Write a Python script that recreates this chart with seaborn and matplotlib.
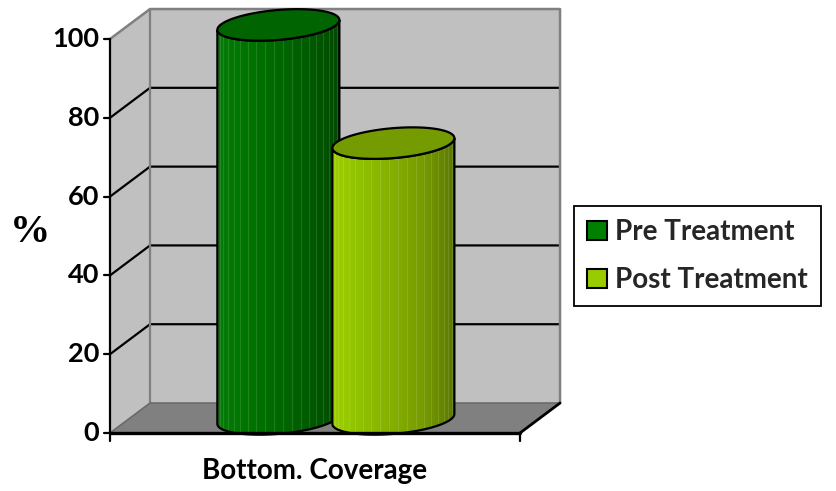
import numpy as np
import matplotlib
matplotlib.use("Agg")
import matplotlib.pyplot as plt
import seaborn as sns
from matplotlib.patches import Polygon, Patch
from matplotlib.colors import LinearSegmentedColormap

# ---------------- data ----------------
categories = ["Bottom. Coverage"]
series = ["Pre Treatment", "Post Treatment"]
values = [100, 70]
y_ticks = [0, 20, 40, 60, 80, 100]
y_label = "%"

# ---------------- style ----------------
sns.set_theme(style="white")
plt.rcParams['font.family'] = ['Lato', 'DejaVu Sans']

palette = sns.color_palette(["#008000", "#99CC00"])
body_grads = [
    ["#067a06", "#007400", "#006800", "#005a00", "#004a00"],
    ["#9dd000", "#90c000", "#84ae00", "#769a00", "#5a7800"],
]
top_colors = ["#006400", "#749b00"]
WEIGHT = 'bold'

fig = plt.figure(figsize=(8.36, 4.91), dpi=100)
ax = fig.add_axes([0, 0, 1, 1])
ax.axis('off')

# 3D depth offset (x units, value units)
DX, DY = 0.0976, 7.61
vmin, vmax = y_ticks[0], y_ticks[-1]
x0, x1 = 0.0, 1.0
wall = "#c0c0c0"
edge_gray = "#808080"

# back wall, left wall, floor
ax.add_patch(Polygon([(x0 + DX, vmin + DY), (x1 + DX, vmin + DY),
                      (x1 + DX, vmax + DY), (x0 + DX, vmax + DY)],
                     closed=True, facecolor=wall, edgecolor='none', zorder=1))
ax.add_patch(Polygon([(x0, vmin), (x0 + DX, vmin + DY),
                      (x0 + DX, vmax + DY), (x0, vmax)],
                     closed=True, facecolor=wall, edgecolor='none', zorder=1))
ax.add_patch(Polygon([(x0, vmin), (x1, vmin),
                      (x1 + DX, vmin + DY), (x0 + DX, vmin + DY)],
                     closed=True, facecolor="#808080", edgecolor='none', zorder=1))

# gridlines
for v in y_ticks[1:-1]:
    ax.plot([x0, x0 + DX, x1 + DX], [v, v + DY, v + DY], color='black', lw=1.6,
            solid_capstyle='butt', zorder=2)
# wall edges
ax.plot([x0, x0 + DX, x1 + DX, x1 + DX], [vmax, vmax + DY, vmax + DY, vmin + DY],
        color=edge_gray, lw=1.8, zorder=2)
ax.plot([x0 + DX, x0 + DX], [vmin + DY, vmax + DY], color=edge_gray, lw=1.6, zorder=2)
ax.plot([x0, x0 + DX, x1 + DX], [vmin, vmin + DY, vmin + DY], color="#6a6a6a", lw=1.2, zorder=2)

# ---------------- cylinders ----------------
spacing = 0.2805
a = 0.1488      # half width (x units)
b = 3.8         # half height of ellipse (value units)
k = 8.4         # tilt of ellipse
depth = 0.47
t_front = np.linspace(np.pi, 2 * np.pi, 80)
t_full = np.linspace(0, 2 * np.pi, 160)

for i, (name, val) in enumerate(zip(series, values)):
    z = 3 + i * 5
    cx = 0.505 + (i - (len(series) - 1) / 2) * spacing + DX * depth
    base = vmin + DY * depth
    top = val + DY * depth
    xs_top = cx + a * np.cos(t_front)
    ys_top = top + b * np.sin(t_front) + k * a * np.cos(t_front)
    xs_bot = cx + a * np.cos(t_front[::-1])
    ys_bot = base + b * np.sin(t_front[::-1]) + k * a * np.cos(t_front[::-1])
    body_pts = np.column_stack([np.concatenate([xs_top, xs_bot]),
                                np.concatenate([ys_top, ys_bot])])
    body = Polygon(body_pts, closed=True, facecolor='none', edgecolor='none', zorder=z)
    ax.add_patch(body)
    cmap = LinearSegmentedColormap.from_list("g%d" % i, body_grads[i])
    grad = np.linspace(0, 1, 256)[None, :]
    im = ax.imshow(grad, cmap=cmap, extent=(cx - a, cx + a, base - 6, top + 6),
                   aspect='auto', zorder=z + 0.5, interpolation='bilinear')
    im.set_clip_path(body)
    # facet stripes
    for th in np.linspace(0, np.pi, 22)[1:-1]:
        xx = cx - a * np.cos(th)
        ln, = ax.plot([xx, xx], [base - 6, top + 6], color='white', alpha=0.12,
                      lw=0.8, zorder=z + 1)
        ln.set_clip_path(body)
    ax.add_patch(Polygon(body_pts, closed=True, facecolor='none', edgecolor='black',
                         lw=1.6, zorder=z + 2))
    # top ellipse
    ell = np.column_stack([cx + a * np.cos(t_full),
                           top + b * np.sin(t_full) + k * a * np.cos(t_full)])
    ax.add_patch(Polygon(ell, closed=True, facecolor=top_colors[i], edgecolor='black',
                         lw=1.6, zorder=z + 3))

# front axes lines
ax.plot([x0, x0], [vmin - 2.0, vmax], color='black', lw=1.6, zorder=20)
ax.plot([x0, x1], [vmin, vmin], color='black', lw=2.4, zorder=20)
ax.plot([x1, x1 + DX], [vmin, vmin + DY], color='black', lw=2.0, zorder=20)
ax.plot([x1, x1], [vmin - 2.0, vmin], color='black', lw=1.6, zorder=20)
tick_len = 0.0146
for v in y_ticks:
    ax.plot([x0 - tick_len, x0], [v, v], color='black', lw=1.6, zorder=20)
    ax.text(x0 - tick_len - 0.012, v, str(v), ha='right', va='center',
            fontsize=19.5, fontweight=WEIGHT, color='black', family='Lato')

ax.text(-0.195, 51, y_label, ha='center', va='center', fontsize=29,
        fontweight='bold', family='Liberation Serif', color='black')
ax.text((x0 + x1) / 2, -9.6, categories[0], ha='center', va='center', fontsize=20,
        fontweight=WEIGHT, family='Lato', color='black')

handles = [Patch(facecolor=palette[i], edgecolor='black', lw=1.5) for i in range(len(series))]
leg = ax.legend(handles, series, loc='upper left', bbox_to_anchor=(574 / 836, 1 - 206 / 491),
                frameon=True, fancybox=False, edgecolor='black', framealpha=1,
                prop=dict(family='Lato', weight=WEIGHT, size=20),
                handlelength=0.7, handleheight=0.7, handletextpad=0.3,
                labelspacing=0.78, borderpad=0.48, borderaxespad=0)
leg.get_frame().set_linewidth(1.3)

ax.set_xlim(-0.2683, 1.7707)
ax.set_ylim(-14.72, 109.9)

fig.savefig("out.png", dpi=100)
